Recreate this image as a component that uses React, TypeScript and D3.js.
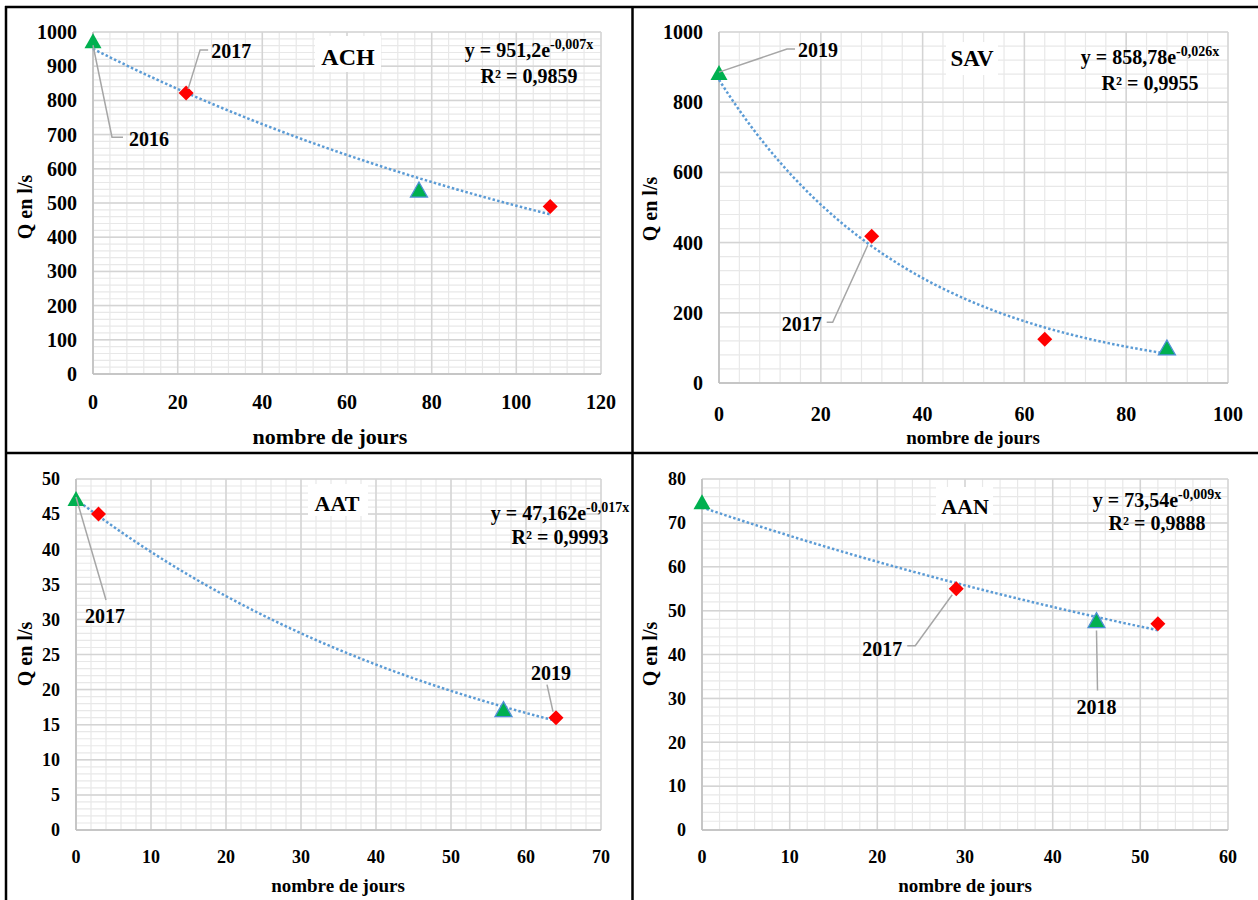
import React from 'react';
import * as d3 from 'd3';

const FONT = '"Liberation Serif","Times New Roman",serif';

// ---------- ACH ----------
const achTriangleDays = [0, 77];
const achTriangleQ = [970, 535];
const achDiamondDays = [22, 108];
const achDiamondQ = [822, 490];
const achEquation = ['y = 951,2e', '-0,007x', 'R² = 0,9859'];
const achXTicks = [0, 20, 40, 60, 80, 100, 120];
const achYTicks = [0, 100, 200, 300, 400, 500, 600, 700, 800, 900, 1000];

// ---------- SAV ----------
const savTriangleDays = [0, 88];
const savTriangleQ = [880, 97];
const savDiamondDays = [30, 64];
const savDiamondQ = [418, 125];
const savEquation = ['y = 858,78e', '-0,026x', 'R² = 0,9955'];
const savXTicks = [0, 20, 40, 60, 80, 100];
const savYTicks = [0, 200, 400, 600, 800, 1000];

// ---------- AAT ----------
const aatTriangleDays = [0, 57];
const aatTriangleQ = [47, 17];
const aatDiamondDays = [3, 64];
const aatDiamondQ = [45, 16];
const aatEquation = ['y = 47,162e', '-0,017x', 'R² = 0,9993'];
const aatXTicks = [0, 10, 20, 30, 40, 50, 60, 70];
const aatYTicks = [0, 5, 10, 15, 20, 25, 30, 35, 40, 45, 50];

// ---------- AAN ----------
const aanTriangleDays = [0, 45];
const aanTriangleQ = [74.5, 47.5];
const aanDiamondDays = [29, 52];
const aanDiamondQ = [55, 47];
const aanEquation = ['y = 73,54e', '-0,009x', 'R² = 0,9888'];
const aanXTicks = [0, 10, 20, 30, 40, 50, 60];
const aanYTicks = [0, 10, 20, 30, 40, 50, 60, 70, 80];

const xTitle = 'nombre de jours';
const yTitle = 'Q en l/s';

type Callout = {
  series: 'tri' | 'dia';
  idx: number;
  text: string;
  pts: [number, number][];
  tx: number;
  ty: number;
  anchor: 'start' | 'middle' | 'end';
};

type PanelCfg = {
  name: string;
  left: number; right: number; top: number; bottom: number;
  xTicks: number[]; yTicks: number[];
  triX: number[]; triY: number[]; diaX: number[]; diaY: number[];
  eq: string[];
  tickSize: number; xTickOff: number;
  yTitleX: number; yTitleY: number; xTitleX: number; xTitleY: number; xTitleSize: number;
  box: [number, number, number, number]; titleX: number; titleY: number; titleSize: number;
  eqX: number; eqY: number; r2Y: number;
  callouts: Callout[];
};

const panels: PanelCfg[] = [
  {
    name: 'ACH', left: 93, right: 601, top: 32, bottom: 374,
    xTicks: achXTicks, yTicks: achYTicks,
    triX: achTriangleDays, triY: achTriangleQ, diaX: achDiamondDays, diaY: achDiamondQ,
    eq: achEquation, tickSize: 20, xTickOff: 28,
    yTitleX: 32, yTitleY: 207, xTitleX: 330, xTitleY: 444, xTitleSize: 22,
    box: [315, 36, 66, 36], titleX: 348, titleY: 65, titleSize: 24,
    eqX: 529, eqY: 57, r2Y: 83,
    callouts: [
      { series: 'dia', idx: 0, text: '2017', pts: [[2, -4], [14, -43], [22, -43]], tx: 25, ty: -35, anchor: 'start' },
      { series: 'tri', idx: 0, text: '2016', pts: [[0, 3], [19, 95], [30, 95]], tx: 36, ty: 104, anchor: 'start' },
    ],
  },
  {
    name: 'SAV', left: 719, right: 1228, top: 32, bottom: 383,
    xTicks: savXTicks, yTicks: savYTicks,
    triX: savTriangleDays, triY: savTriangleQ, diaX: savDiamondDays, diaY: savDiamondQ,
    eq: savEquation, tickSize: 20, xTickOff: 31,
    yTitleX: 657, yTitleY: 209, xTitleX: 973, xTitleY: 444, xTitleSize: 19,
    box: [946, 42, 52, 33], titleX: 972, titleY: 66, titleSize: 23,
    eqX: 1150, eqY: 64, r2Y: 90,
    callouts: [
      { series: 'tri', idx: 0, text: '2019', pts: [[0, -2], [68, -25], [76, -25]], tx: 79, ty: -17, anchor: 'start' },
      { series: 'dia', idx: 0, text: '2017', pts: [[-4, 9], [-39, 86], [-45, 86]], tx: -50, ty: 95, anchor: 'end' },
    ],
  },
  {
    name: 'AAT', left: 76, right: 601, top: 479, bottom: 830,
    xTicks: aatXTicks, yTicks: aatYTicks,
    triX: aatTriangleDays, triY: aatTriangleQ, diaX: aatDiamondDays, diaY: aatDiamondQ,
    eq: aatEquation, tickSize: 18, xTickOff: 27,
    yTitleX: 32, yTitleY: 654, xTitleX: 338, xTitleY: 892, xTitleSize: 19,
    box: [308, 484, 60, 32], titleX: 337, titleY: 511, titleSize: 22,
    eqX: 560, eqY: 520, r2Y: 544,
    callouts: [
      { series: 'tri', idx: 0, text: '2017', pts: [[0, -3], [30, 100]], tx: 29, ty: 123, anchor: 'middle' },
      { series: 'dia', idx: 1, text: '2019', pts: [[-3, -6], [-9, -33]], tx: -5, ty: -38, anchor: 'middle' },
    ],
  },
  {
    name: 'AAN', left: 702, right: 1228, top: 479, bottom: 830,
    xTicks: aanXTicks, yTicks: aanYTicks,
    triX: aanTriangleDays, triY: aanTriangleQ, diaX: aanDiamondDays, diaY: aanDiamondQ,
    eq: aanEquation, tickSize: 18, xTickOff: 27,
    yTitleX: 657, yTitleY: 654, xTitleX: 965, xTitleY: 892, xTitleSize: 19,
    box: [936, 487, 57, 35], titleX: 965, titleY: 514, titleSize: 22,
    eqX: 1157, eqY: 507, r2Y: 530,
    callouts: [
      { series: 'dia', idx: 0, text: '2017', pts: [[-4, 6], [-41, 57], [-49, 57]], tx: -54, ty: 67, anchor: 'end' },
      { series: 'tri', idx: 1, text: '2018', pts: [[0, 9], [1, 69]], tx: 0, ty: 92, anchor: 'middle' },
    ],
  },
];

// Exponential trendline (least squares on ln Q), as Excel computes it
function fitExp(xs: number[], ys: number[]): [number, number] {
  const ls = ys.map((v) => Math.log(v));
  const mx = d3.mean(xs) as number;
  const ml = d3.mean(ls) as number;
  let sxy = 0;
  let sxx = 0;
  xs.forEach((v, i) => {
    sxy += (v - mx) * (ls[i] - ml);
    sxx += (v - mx) * (v - mx);
  });
  const b = sxy / sxx;
  return [Math.exp(ml - b * mx), b];
}

function Panel({ c }: { c: PanelCfg }) {
  const xMax = c.xTicks[c.xTicks.length - 1];
  const yMax = c.yTicks[c.yTicks.length - 1];
  const x = d3.scaleLinear().domain([0, xMax]).range([c.left, c.right]);
  const y = d3.scaleLinear().domain([0, yMax]).range([c.bottom, c.top]);
  const xStep = c.xTicks[1] - c.xTicks[0];
  const yStep = c.yTicks[1] - c.yTicks[0];
  const xMinor = d3.range(0, xMax + 1e-9, xStep / 5);
  const yMinor = d3.range(0, yMax + 1e-9, yStep / 5);
  const allX = c.triX.concat(c.diaX);
  const allY = c.triY.concat(c.diaY);
  const lastDay = d3.max(allX) as number;
  const [a, b] = fitExp(allX, allY);
  const trendPts = d3.range(0, lastDay + 1e-9, 0.5).map((d) => [x(d), y(a * Math.exp(b * d))] as [number, number]);
  const trendPath = d3.line()(trendPts) || '';
  const tri = (cx: number, cy: number) => `M${cx},${cy - 9}L${cx + 8.5},${cy + 6}L${cx - 8.5},${cy + 6}Z`;
  const dia = (cx: number, cy: number) => `M${cx},${cy - 7.5}L${cx + 7.5},${cy}L${cx},${cy + 7.5}L${cx - 7.5},${cy}Z`;
  const pointOf = (s: 'tri' | 'dia', i: number): [number, number] =>
    s === 'tri' ? [x(c.triX[i]), y(c.triY[i])] : [x(c.diaX[i]), y(c.diaY[i])];

  return (
    <g fontFamily={FONT} fontWeight="bold">
      <rect x={c.left} y={c.top} width={c.right - c.left} height={c.bottom - c.top} fill="#fff" />
      {xMinor.map((v, i) => (
        <line key={'xm' + i} x1={x(v)} x2={x(v)} y1={c.top} y2={c.bottom} stroke="#e8e8e8" strokeWidth={1.2} />
      ))}
      {yMinor.map((v, i) => (
        <line key={'ym' + i} x1={c.left} x2={c.right} y1={y(v)} y2={y(v)} stroke="#e8e8e8" strokeWidth={1.2} />
      ))}
      {c.xTicks.map((v, i) => (
        <line key={'xM' + i} x1={x(v)} x2={x(v)} y1={c.top} y2={c.bottom} stroke="#d4d4d4" strokeWidth={1.5} />
      ))}
      {c.yTicks.map((v, i) => (
        <line key={'yM' + i} x1={c.left} x2={c.right} y1={y(v)} y2={y(v)} stroke="#d4d4d4" strokeWidth={1.5} />
      ))}
      <line x1={c.left} x2={c.left} y1={c.top} y2={c.bottom} stroke="#bfbfbf" strokeWidth={1.5} />
      <line x1={c.left} x2={c.right} y1={c.bottom} y2={c.bottom} stroke="#bfbfbf" strokeWidth={1.5} />

      {c.yTicks.map((v, i) => (
        <text key={'yl' + i} x={c.left - 16} y={y(v)} dy="0.35em" textAnchor="end" fontSize={c.tickSize}>
          {v}
        </text>
      ))}
      {c.xTicks.map((v, i) => (
        <text key={'xl' + i} x={x(v)} y={c.bottom + c.xTickOff} dy="0.35em" textAnchor="middle" fontSize={c.tickSize}>
          {v}
        </text>
      ))}
      <text x={c.xTitleX} y={c.xTitleY} textAnchor="middle" fontSize={c.xTitleSize}>
        {xTitle}
      </text>
      <text transform={`translate(${c.yTitleX},${c.yTitleY}) rotate(-90)`} textAnchor="middle" fontSize={20}>
        {yTitle}
      </text>

      <rect x={c.box[0]} y={c.box[1]} width={c.box[2]} height={c.box[3]} fill="#fff" />
      <text x={c.titleX} y={c.titleY} textAnchor="middle" fontSize={c.titleSize}>
        {c.name}
      </text>
      <text x={c.eqX} y={c.eqY} textAnchor="middle" fontSize={20}>
        {c.eq[0]}
        <tspan fontSize={14} dy={-8}>
          {c.eq[1]}
        </tspan>
      </text>
      <text x={c.eqX} y={c.r2Y} textAnchor="middle" fontSize={20}>
        {c.eq[2]}
      </text>

      <path d={trendPath} fill="none" stroke="#5b9bd5" strokeWidth={2.5} strokeDasharray="2.5 2.2" />

      {c.diaX.map((d, i) => (
        <path key={'d' + i} d={dia(x(d), y(c.diaY[i]))} fill="#ff0000" />
      ))}
      {c.triX.map((d, i) => (
        <path
          key={'t' + i}
          d={tri(x(d), y(c.triY[i]))}
          fill="#00b050"
          stroke={i > 0 ? '#4f8fd6' : 'none'}
          strokeWidth={1.3}
        />
      ))}

      {c.callouts.map((co, i) => {
        const [px, py] = pointOf(co.series, co.idx);
        const pts = co.pts.map(([dx, dy]) => [px + dx, py + dy] as [number, number]);
        return (
          <g key={'co' + i}>
            <path d={d3.line()(pts) || ''} fill="none" stroke="#a6a6a6" strokeWidth={1.5} />
            <text x={px + co.tx} y={py + co.ty} textAnchor={co.anchor} fontSize={20}>
              {co.text}
            </text>
          </g>
        );
      })}
    </g>
  );
}

export default function App() {
  return (
    <svg
      width={1258}
      height={900}
      viewBox="0 0 1258 900"
      style={{ position: 'absolute', left: 0, top: 0, background: '#fff' }}
    >
      <rect x={0} y={0} width={1258} height={900} fill="#fff" />
      {panels.map((p) => (
        <Panel key={p.name} c={p} />
      ))}
      <g stroke="#000" strokeWidth={2.5}>
        <line x1={5} x2={1258} y1={7} y2={7} />
        <line x1={5} x2={1258} y1={453} y2={453} />
        <line x1={6} x2={6} y1={6} y2={900} />
        <line x1={632.5} x2={632.5} y1={6} y2={900} />
      </g>
    </svg>
  );
}
